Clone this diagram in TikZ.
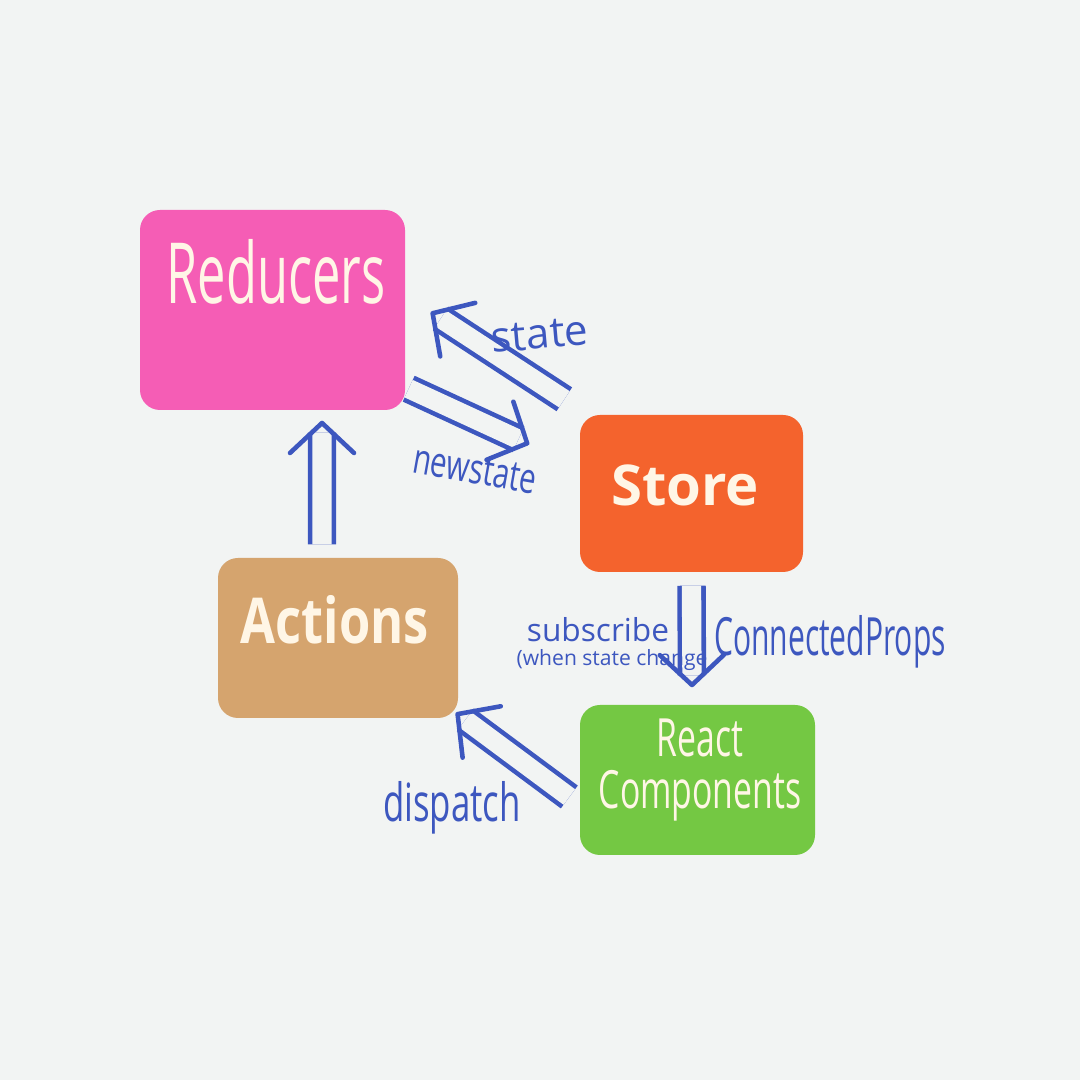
\documentclass[tikz,border=0pt]{standalone}
\usepackage{fontspec}
\setmainfont{Open Sans}
\usetikzlibrary{arrows.meta,decorations.markings}
\definecolor{bg}{HTML}{F2F4F3}
\definecolor{pinkbox}{HTML}{F55DB5}
\definecolor{orangebox}{HTML}{F4632D}
\definecolor{tanbox}{HTML}{D5A46E}
\definecolor{greenbox}{HTML}{74C843}
\definecolor{cream}{HTML}{FFF6E6}
\definecolor{ink}{HTML}{3D57BF}
\tikzset{
  box/.style={rounded corners=0.2cm, inner sep=0pt, draw=none},
  boxtxt/.style={text=cream, inner sep=0pt, align=center},
  lbl/.style={text=ink, inner sep=0pt, align=left},
  dbl/.style={draw=ink, line width=1.3pt, double=bg, double distance=5.5pt, line cap=butt, shorten >=0.12cm},
  vhead/.style={decoration={markings, mark=at position 1 with {\arrow[ink]{Straight Barb[length=0.30cm, width=0.64cm, line width=1.3pt, round]}}}, postaction={decorate}},
}
\begin{document}
\begin{tikzpicture}
\fill[bg] (0,0) rectangle (10.8,10.8);
\useasboundingbox (0,0) rectangle (10.8,10.8);

% boxes
\node[box, fill=pinkbox, minimum width=2.65cm, minimum height=2.0cm] (red) at (2.725,7.70) {};
\node[box, fill=orangebox, minimum width=2.23cm, minimum height=1.57cm] (sto) at (6.915,5.865) {};
\node[box, fill=tanbox, minimum width=2.40cm, minimum height=1.60cm] (act) at (3.38,4.42) {};
\node[box, fill=greenbox, minimum width=2.35cm, minimum height=1.50cm] (rc) at (6.975,3.00) {};

% box texts
\node[boxtxt, font=\fontsize{24}{28}\selectfont] (redlbl) at (2.76,8.08) {\scalebox{0.6}[1]{Reducers}};
\node[boxtxt, font=\fontsize{16}{19}\selectfont\bfseries] (stolbl) at (6.85,5.95) {Store};
\node[boxtxt, font=\fontsize{18}{21}\selectfont\bfseries] (actlbl) at (3.35,4.60) {\scalebox{0.8}[1]{Actions}};
\node[boxtxt, font=\fontsize{15}{15}\selectfont] (rclbl) at (7.00,3.10) {\scalebox{0.64}[1]{React}\\\scalebox{0.64}[1]{Components}};

% connector end points (attached to the boxes)
\coordinate (a1s) at ([xshift=-0.16cm, yshift=0.13cm]act.north);
\coordinate (a1e) at ([xshift=0.495cm, yshift=-0.10cm]red.south);
\coordinate (a2s) at ([xshift=-0.15cm, yshift=0.15cm]sto.north west);
\coordinate (a2e) at ([xshift=0.25cm, yshift=-0.02cm]red.east);
\coordinate (a3s) at ([xshift=0.03cm, yshift=0.22cm]red.south east);
\coordinate (a3e) at ([xshift=-0.50cm, yshift=-0.30cm]sto.north west);
\coordinate (a4s) at ([yshift=-0.13cm]sto.south);
\coordinate (a4e) at ([xshift=-0.055cm, yshift=0.17cm]rc.north);
\coordinate (a5s) at ([xshift=-0.10cm, yshift=-0.17cm]rc.west);
\coordinate (a5e) at ([xshift=-0.03cm, yshift=0.06cm]act.south east);

% connectors
\draw[dbl] (a1s) -- (a1e);  \path[vhead] (a1s) -- (a1e);
\draw[dbl] (a2s) -- (a2e);  \path[vhead] (a2s) -- (a2e);
\draw[dbl] (a3s) -- (a3e);  \path[vhead] (a3s) -- (a3e);
\draw[dbl] (a4s) -- (a4e);  \path[vhead] (a4s) -- (a4e);
\draw[dbl] (a5s) -- (a5e);  \path[vhead] (a5s) -- (a5e);

% labels
\node[lbl, font=\fontsize{12}{14}\selectfont, rotate=5] (lstate) at (5.40,7.45) {state};
\node[lbl, font=\fontsize{12}{14}\selectfont, rotate=-10] (lnew) at (4.75,6.10) {\scalebox{0.7}[1]{newstate}};
\node[lbl, font=\fontsize{9}{10}\selectfont] (lsub) at (5.98,4.50) {subscribe};
\node[lbl, font=\fontsize{6}{7}\selectfont] (lwhen) at (6.12,4.20) {(when state change};
\node[lbl, font=\fontsize{15}{18}\selectfont] (lprops) at (8.30,4.38) {\scalebox{0.57}[1]{ConnectedProps}};
\node[lbl, font=\fontsize{15}{18}\selectfont] (ldisp) at (4.52,2.72) {\scalebox{0.66}[1]{dispatch}};
\end{tikzpicture}
\end{document}
